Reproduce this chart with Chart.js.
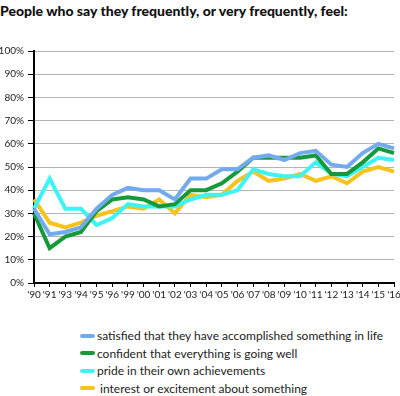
<!DOCTYPE html>
<html>
<head>
<meta charset="utf-8">
<script src="https://cdn.jsdelivr.net/npm/chart.js@4.4.0/dist/chart.umd.min.js"></script>
<style>
  html, body { margin: 0; padding: 0; background: #fff; overflow: hidden; }
  body { width: 400px; height: 396px; position: relative; }
  #title { position: absolute; left: 0; top: 2px; font-family: Lato, "Noto Sans", sans-serif; font-weight: 900; font-size: 14px; color: #111; white-space: nowrap; }
  #wrap { position: absolute; left: 0; top: 40px; width: 404px; height: 270px; }
  #legend { position: absolute; left: 80px; top: 327px; font-family: Lato, "Noto Sans", sans-serif; font-size: 12px; color: #222; }
  .item { height: 17.5px; line-height: 17.5px; white-space: pre; display: flex; align-items: center; }
  .mark { width: 15px; height: 4px; border-radius: 2px; margin-right: 2px; }
</style>
</head>
<body>
<div id="title">People who say they frequently, or very frequently, feel:</div>
<div id="wrap"><canvas id="chart" width="404" height="270"></canvas></div>
<div id="legend"></div>
<script>
var years = ["'90","'91","'93","'94","'95","'96","'99","'00","'01","'02","'03","'04","'05","'06","'07","'08","'09","'10","'11","'12","'13","'14","'15","'16"]

var satisfied = [32, 21, 22, 24, 32, 38, 41, 40, 40, 36, 45, 45, 49, 49, 54, 55, 53, 56, 57, 51, 50, 56, 60, 58]
var confident = [30, 15, 20, 22, 31, 36, 37, 36, 33, 34, 40, 40, 43, 48, 54, 54, 54, 54, 55, 47, 47, 52, 58, 56]
var pride     = [32, 45, 32, 32, 25, 28, 34, 33, 33, 33, 36, 38, 38, 40, 49, 47, 46, 46, 52, 47, 46, 50, 54, 53]
var interest  = [36, 26, 24, 26, 29, 31, 33, 32, 36, 30, 38, 37, 38, 44, 48, 44, 45, 47, 44, 46, 43, 48, 50, 48]

var seriesNames = [
    "satisfied that they have accomplished something in life",
    "confident that everything is going well",
    "pride in their own achievements",
    " interest or excitement about something"
]
var seriesColors = ["#72aaee", "#16993b", "#3ef3f5", "#f6c31c"]
var seriesValues = [satisfied, confident, pride, interest]

var yTicks = [0, 10, 20, 30, 40, 50, 60, 70, 80, 90, 100]

var datasets = seriesValues.map(function (vals, i) {
    return {
        label: seriesNames[i],
        data: vals,
        borderColor: seriesColors[i],
        backgroundColor: seriesColors[i],
        borderWidth: 4,
        pointRadius: 0,
        tension: 0,
        fill: false
    }
})

var tickFont = { family: "Lato, 'Noto Sans', sans-serif", size: 10 }

var chart = new Chart(document.getElementById("chart"), {
    type: 'line',
    data: { labels: years, datasets: datasets },
    options: {
        responsive: false,
        animation: false,
        layout: { padding: { top: 11, right: 10, left: 0, bottom: 0 } },
        scales: {
            x: {
                offset: false,
                grid: { drawOnChartArea: false, color: '#000', tickColor: '#000', tickLength: 4 },
                border: { display: true, color: '#000', width: 2 },
                ticks: { autoSkip: false, maxRotation: 0, padding: 2, color: '#222', font: tickFont },
                afterFit: function (s) { s.height = 27 }
            },
            y: {
                min: 0,
                max: 100,
                afterBuildTicks: function (s) { s.ticks = yTicks.map(function (v) { return { value: v } }) },
                grid: { color: '#b5b5b5', borderDash: [1, 2], tickColor: '#000', tickLength: 6, tickBorderDash: [] },
                border: { display: true, color: '#000', width: 2 },
                ticks: { padding: 4, color: '#222', font: tickFont, callback: function (v) { return v + '%' } },
                afterFit: function (s) { s.width = 34 }
            }
        },
        plugins: {
            legend: { display: false },
            tooltip: { enabled: false }
        }
    }
})

// legend built from the chart's datasets
var leg = document.getElementById("legend")
chart.data.datasets.forEach(function (ds) {
    var row = document.createElement("div")
    row.className = "item"
    var m = document.createElement("span")
    m.className = "mark"
    m.style.background = ds.borderColor
    var t = document.createElement("span")
    t.textContent = ds.label
    row.appendChild(m)
    row.appendChild(t)
    leg.appendChild(row)
})
</script>
</body>
</html>
